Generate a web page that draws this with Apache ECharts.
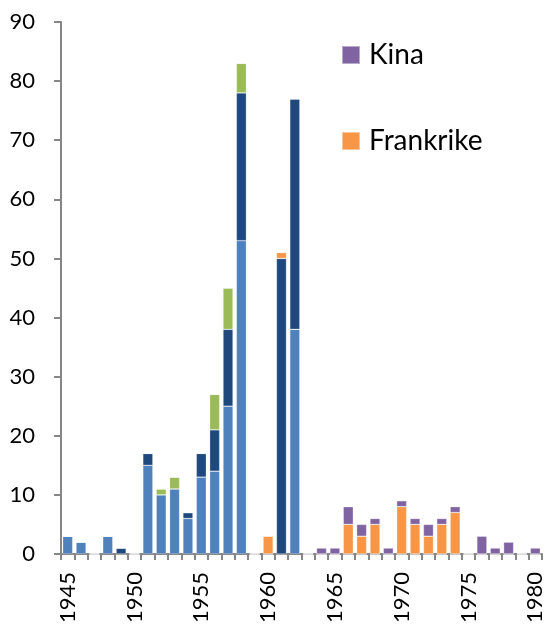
<!DOCTYPE html>
<html><head><meta charset="utf-8">
<script src="https://cdn.jsdelivr.net/npm/echarts@6/dist/echarts.min.js"></script>
<style>html,body{margin:0;padding:0;background:#fff}#c{width:547px;height:626px}</style>
</head><body><div id="c"></div>
<script>
const years = [];
for (let y = 1945; y <= 1980; y++) years.push(String(y));
// values per year 1945..1980
const usa =      [3,2,0,3,0,0,15,10,11,6,13,14,25,53,0,0,0,38,0,0,0,0,0,0,0,0,0,0,0,0,0,0,0,0,0,0];
const sovjet =   [0,0,0,0,1,0,2,0,0,1,4,7,13,25,0,0,50,39,0,0,0,0,0,0,0,0,0,0,0,0,0,0,0,0,0,0];
const storbrit = [0,0,0,0,0,0,0,1,2,0,0,6,7,5,0,0,0,0,0,0,0,0,0,0,0,0,0,0,0,0,0,0,0,0,0,0];
const frankrike= [0,0,0,0,0,0,0,0,0,0,0,0,0,0,0,3,1,0,0,0,0,5,3,5,0,8,5,3,5,7,0,0,0,0,0,0];
const kina =     [0,0,0,0,0,0,0,0,0,0,0,0,0,0,0,0,0,0,0,1,1,3,2,1,1,1,1,2,1,1,0,3,1,2,0,1];
const yTicks = [0,10,20,30,40,50,60,70,80,90];

const font = 'Lato, "Open Sans", sans-serif';
function ser(name, data, color){
  return {name, type:'bar', stack:'s', data, barCategoryGap:'25%',
    itemStyle:{color, borderColor:'rgba(255,255,255,0.45)', borderWidth:0.6}};
}
const chart = echarts.init(document.getElementById('c'), null, {renderer:'canvas'});
chart.setOption({
  animation:false,
  grid:{left:61,right:5,top:22,bottom:71,containLabel:false},
  legend:{data:['Kina','Frankrike'], orient:'vertical', left:341, top:41, padding:0, itemWidth:18, itemHeight:18, itemGap:58,
    icon:'rect', textStyle:{fontFamily:font, fontSize:28, lineHeight:28, color:'#000', padding:[0,0,0,4]}},
  xAxis:{type:'category', data:years,
    axisLine:{lineStyle:{color:'#868686', width:2}},
    axisTick:{show:true, alignWithLabel:false, interval:0, length:6, lineStyle:{color:'#868686', width:2}},
    axisLabel:{interval:4, rotate:90, margin:18, fontFamily:font, fontSize:22, color:'#000'}},
  yAxis:{type:'value', min:yTicks[0], max:yTicks[yTicks.length-1], interval:10,
    splitLine:{show:false},
    axisLine:{show:true, lineStyle:{color:'#868686', width:2}},
    axisTick:{show:true, length:7, lineStyle:{color:'#868686', width:2}},
    axisLabel:{fontFamily:font, fontSize:22, color:'#000', margin:26}},
  series:[
    ser('USA', usa, '#4F81BD'),
    ser('Sovjetunionen', sovjet, '#1F497D'),
    ser('Storbritannia', storbrit, '#9BBB59'),
    ser('Frankrike', frankrike, '#F79646'),
    ser('Kina', kina, '#8064A2')
  ]
});
</script></body></html>
